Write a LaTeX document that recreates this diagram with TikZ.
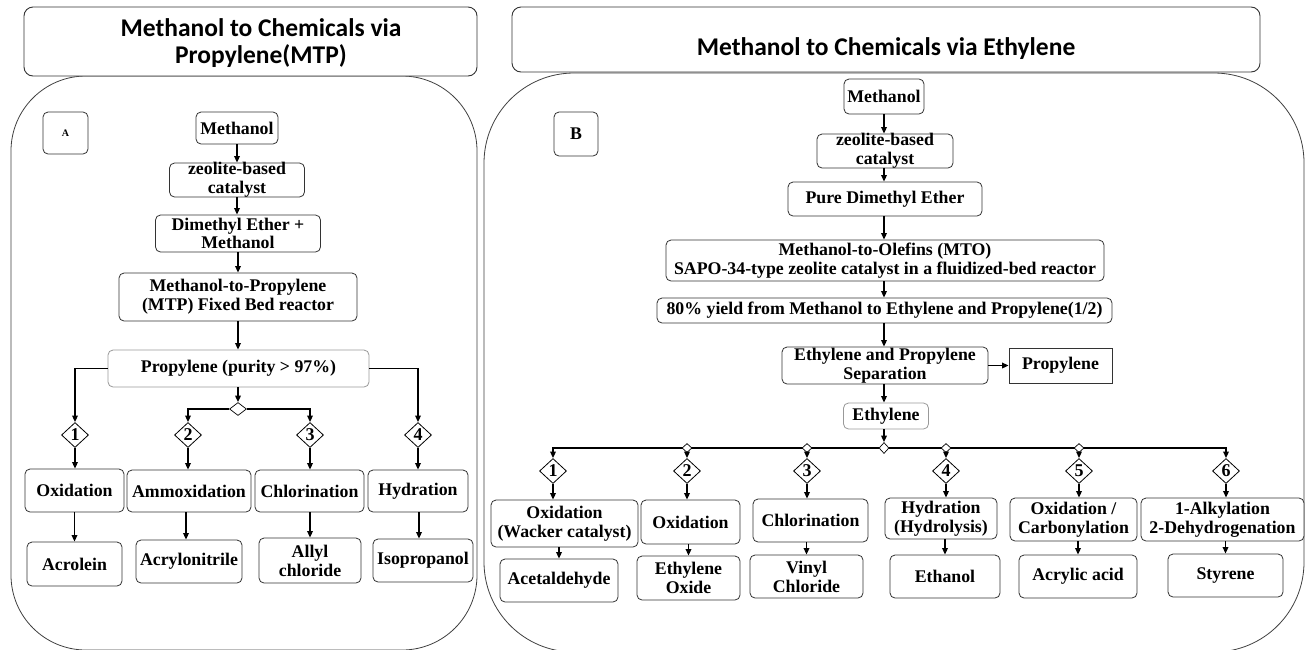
\documentclass[tikz,border=0pt]{standalone}
\usepackage{fontspec}
\setmainfont{Liberation Serif}
\newfontfamily\titlefont{Carlito}
\usetikzlibrary{arrows.meta,shapes.geometric}

\begin{document}
\begin{tikzpicture}[x=1pt,y=-1pt,
  panel/.style={draw=black!75, line width=0.8},
  titlebox/.style={draw=black!80, line width=0.9, rounded corners=9, fill=white},
  titletext/.style={font=\titlefont\fontsize{25.5}{27}\selectfont\bfseries, align=center, inner sep=0},
  box/.style={draw=black!80, line width=0.8, rounded corners=5, fill=white, inner sep=0},
  softbox/.style={box, draw=black!40},
  sqbox/.style={box, rounded corners=0},
  txt/.style={font=\fontsize{17.8}{18.8}\selectfont\bfseries, align=center, inner sep=0},
  tx/.style={label={[txt]center:{#1}}},
  num/.style={diamond, draw=black, line width=0.8, fill=white, inner sep=0,
              minimum width=27, minimum height=25, label={[txt, font=\fontsize{18}{18}\selectfont\bfseries]center:#1}},
  junc/.style={diamond, draw=black, line width=0.7, fill=white, inner sep=0},
  arr/.style={draw=black, line width=1.8, -{Triangle[length=6.5pt,width=5.5pt]}},
]
\useasboundingbox[fill=white] (0,0) rectangle (1306,649);

% outer panels
\draw[panel, rounded corners=75] (11,76) rectangle (477,650);
\draw[panel, rounded corners=90] (484,73) rectangle (1304,652);

% headings
\node[titlebox, minimum width=453, minimum height=69] (ltitle) at (250.5,41.5) {};
\node[titletext] (ltitletxt) at (261,43.5) {Methanol to Chemicals via\\Propylene(MTP)};
\node[titlebox, minimum width=748, minimum height=65] (rtitle) at (886,39.5) {};
\node[titletext, anchor=base] (rtitletxt) at (886,55) {Methanol to Chemicals via Ethylene};

% ---------------- route A: propylene ----------------
\node[box, minimum width=45, minimum height=42,
      label={[txt, font=\fontsize{10}{10}\selectfont\bfseries]center:A}] (tagA) at (65.5,133) {};
\node[box, minimum width=82, minimum height=32, tx=Methanol] (lmeth) at (237,128) {};
\node[box, minimum width=135, minimum height=34, tx={zeolite-based\\catalyst}] (lzeo) at (237,180) {};
\node[box, minimum width=165, minimum height=37, tx={Dimethyl Ether +\\Methanol}] (ldme) at (238,233.5) {};
\node[box, minimum width=238, minimum height=48, tx={Methanol-to-Propylene\\(MTP) Fixed Bed reactor}] (lmtp) at (238,297) {};
\node[softbox, minimum width=261, minimum height=37, tx={Propylene (purity > 97\%)}] (lprop) at (238.5,368.5) {};
\node[junc, minimum width=17, minimum height=13] (lj) at (238,409) {};

\node[num=1] (ld1) at (75,435) {};
\node[num=2] (ld2) at (188,435) {};
\node[num=3] (ld3) at (310,435) {};
\node[num=4] (ld4) at (418,435) {};

\node[box, minimum width=99, minimum height=43, tx=Oxidation] (lox) at (74.5,490.5) {};
\node[box, minimum width=124, minimum height=42, tx=Ammoxidation] (lamm) at (189,491) {};
\node[box, minimum width=109, minimum height=42, tx=Chlorination] (lchl) at (309.5,491) {};
\node[box, minimum width=100, minimum height=42, tx=Hydration] (lhyd) at (418,491) {};

\node[box, minimum width=95, minimum height=44, tx=Acrolein] (acro) at (74.5,564) {};
\node[box, minimum width=106, minimum height=43, tx=Acrylonitrile] (acryl) at (189,561.5) {};
\node[box, minimum width=102, minimum height=45, tx={Allyl\\chloride}] (allyl) at (310,560.5) {};
\node[box, minimum width=100, minimum height=43, tx=Isopropanol] (iso) at (423,560.5) {};

\draw[arr] (lmeth.south) -- (lmeth.south |- lzeo.north);
\draw[arr] (lzeo.south) -- (lzeo.south |- ldme.north);
\draw[arr] (ldme.south) -- (ldme.south |- lmtp.north);
\draw[arr] (lmtp.south) -- (lmtp.south |- lprop.north);
\draw[arr] (lprop.south -| lj.north) -- (lj.north);
\draw[arr] (lprop.west) -| (ld1.north);
\draw[arr] (lprop.east) -| (ld4.north);
\draw[arr] (lj.west) -| (ld2.north);
\draw[arr] (lj.east) -| (ld3.north);
\foreach \d/\r in {ld1/lox, ld2/lamm, ld3/lchl, ld4/lhyd}
  \draw[arr] (\d.south) -- (\d.south |- \r.north);
\draw[arr] (acro.north |- lox.south) -- (acro.north);
\draw[arr] ([xshift=-3pt]acryl.north |- lamm.south) -- ([xshift=-3pt]acryl.north);
\draw[arr] (allyl.north |- lchl.south) -- (allyl.north);
\draw[arr] ([xshift=-4pt]iso.north |- lhyd.south) -- ([xshift=-4pt]iso.north);

% ---------------- route B: ethylene ----------------
\node[box, minimum width=44, minimum height=44,
      label={[txt]center:B}] (tagB) at (576,134) {};
\node[box, minimum width=80, minimum height=35, tx=Methanol] (rmeth) at (884,96.5) {};
\node[box, minimum width=136, minimum height=34, tx={zeolite-based\\catalyst}] (rzeo) at (885,151) {};
\node[box, minimum width=194, minimum height=34, tx={Pure Dimethyl Ether}] (rdme) at (885,199) {};
\node[box, minimum width=438, minimum height=41,
      tx={Methanol-to-Olefins (MTO)\\SAPO-34-type zeolite catalyst in a fluidized-bed reactor}] (rmto) at (885,260.5) {};
\node[box, minimum width=455, minimum height=25,
      tx={80\% yield from Methanol to Ethylene and Propylene(1/2)}] (ryield) at (884.5,310.5) {};
\node[box, minimum width=206, minimum height=37, tx={Ethylene and Propylene\\Separation}] (rsep) at (885,365.5) {};
\node[sqbox, minimum width=103, minimum height=35, tx=Propylene] (rprop) at (1060.5,365.5) {};
\node[softbox, minimum width=85, minimum height=26, tx=Ethylene] (reth) at (886,416) {};
\node[junc, minimum width=10, minimum height=11] (rj0) at (884,448) {};

\node[num=1] (rd1) at (553,471) {};
\node[num=2] (rd2) at (687,471) {};
\node[num=3] (rd3) at (807,471) {};
\node[num=4] (rd4) at (946,471) {};
\node[num=5] (rd5) at (1079,471) {};
\node[num=6] (rd6) at (1226,471) {};

\draw[arr] (rmeth.south) -- (rmeth.south |- rzeo.north);
\draw[arr] (rmeth.south |- rzeo.south) -- (rmeth.south |- rdme.north);
\draw[arr] (rmeth.south |- rdme.south) -- (rmeth.south |- rmto.north);
\draw[arr] (rmeth.south |- rmto.south) -- (rmeth.south |- ryield.north);
\draw[arr] (rmeth.south |- ryield.south) -- (rmeth.south |- rsep.north);
\draw[arr] (rmeth.south |- rsep.south) -- (rmeth.south |- reth.north);
\draw[arr] (rsep.east) -- (rprop.west);
\draw[arr] (rmeth.south |- reth.south) -- (rj0.north);
\draw[arr] (rj0.west) -| (rd1.north);
\draw[arr] (rj0.east) -| (rd6.north);

\node[junc, minimum width=10, minimum height=9] (rj1) at (687,448) {};
\node[junc, minimum width=10, minimum height=9] (rj2) at (807,448) {};
\node[junc, minimum width=10, minimum height=9] (rj3) at (946,448) {};
\node[junc, minimum width=10, minimum height=9] (rj4) at (1079,448) {};
\foreach \j/\d in {rj1/rd2, rj2/rd3, rj3/rd4, rj4/rd5}
  \draw[arr] (\j.south) -- (\d.north);

\node[box, minimum width=147, minimum height=47, tx={Oxidation\\(Wacker catalyst)}] (wack) at (564.5,523.5) {};
\node[box, minimum width=99, minimum height=44, tx=Oxidation] (rox) at (690.5,522) {};
\node[box, minimum width=115, minimum height=43, tx=Chlorination] (rchl) at (810.5,520.5) {};
\node[box, minimum width=112, minimum height=41, tx={Hydration\\(Hydrolysis)}] (rhyd) at (941,518.5) {};
\node[box, minimum width=127, minimum height=43, tx={Oxidation /\\Carbonylation}] (rcarb) at (1073.5,519.5) {};
\node[box, minimum width=163, minimum height=43, tx={1-Alkylation\\2-Dehydrogenation}] (ralk) at (1222.5,519.5) {};

\node[box, minimum width=118, minimum height=43, tx=Acetaldehyde] (acet) at (559,580.5) {};
\node[box, minimum width=103, minimum height=44, tx={Ethylene\\Oxide}] (eo) at (688.5,578) {};
\node[box, minimum width=113, minimum height=43, tx={Vinyl\\Chloride}] (vc) at (806.5,576.5) {};
\node[box, minimum width=110, minimum height=43, tx=Ethanol] (etoh) at (945,576.5) {};
\node[box, minimum width=118, minimum height=43, tx={Acrylic acid}] (acra) at (1078,576.5) {};
\node[box, minimum width=115, minimum height=43, tx=Styrene] (sty) at (1225.5,575.5) {};

\foreach \d/\r in {rd1/wack, rd2/rox, rd3/rchl, rd4/rhyd, rd5/rcarb, rd6/ralk}
  \draw[arr] (\d.south) -- (\d.south |- \r.north);
\foreach \r/\p in {wack/acet, rox/eo, rchl/vc, rhyd/etoh, rcarb/acra, ralk/sty}
  \draw[arr] (\p.north |- \r.south) -- (\p.north);
\end{tikzpicture}
\end{document}
